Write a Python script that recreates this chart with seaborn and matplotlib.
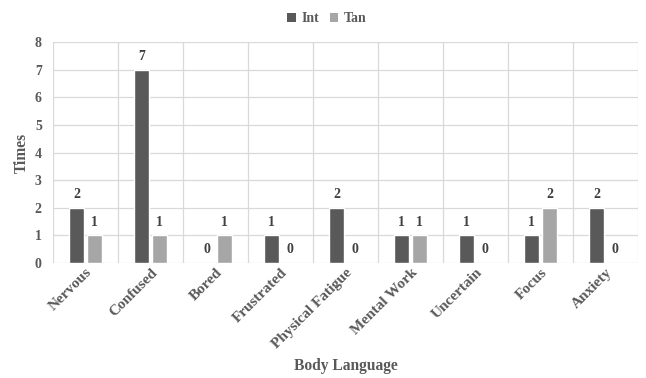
import matplotlib
matplotlib.use("Agg")
import matplotlib.pyplot as plt
from matplotlib.patches import Patch
import seaborn as sns
import pandas as pd
import numpy as np

categories = ["Nervous", "Confused", "Bored", "Frustrated", "Physical Fatigue",
              "Mental Work", "Uncertain", "Focus", "Anxiety"]
int_values = [2, 7, 0, 1, 2, 1, 1, 1, 2]
tan_values = [1, 1, 1, 0, 0, 1, 0, 2, 0]
series_names = ["Int", "Tan"]
y_ticks = [0, 1, 2, 3, 4, 5, 6, 7, 8]

df = pd.DataFrame({
    "Body Language": categories * 2,
    "Times": int_values + tan_values,
    "Series": [series_names[0]] * len(categories) + [series_names[1]] * len(categories),
})

sns.set_theme(style="white")
plt.rcParams["font.family"] = ["Liberation Serif", "DejaVu Serif"]
plt.rcParams["font.weight"] = "bold"

text_color = "#595959"
grid_color = "#d9d9d9"
palette = {"Int": "#595959", "Tan": "#a6a6a6"}

fig = plt.figure(figsize=(6.46, 3.78), dpi=100)
ax = fig.add_axes([0.082, 0.304, 0.906, 0.585])

sns.barplot(data=df, x="Body Language", y="Times", hue="Series",
            order=categories, hue_order=series_names, palette=palette,
            width=0.55, gap=0.17, saturation=1, ax=ax, legend=False,
            zorder=3)

# value labels on top of every bar
for container in ax.containers:
    ax.bar_label(container, fmt="%d", padding=5, fontsize=10,
                 fontweight="bold", color="#404040")

ax.set_ylim(0, 8)
ax.set_xlim(-0.5, len(categories) - 0.5)
ax.set_yticks(y_ticks)
ax.set_yticklabels([str(t) for t in y_ticks], fontsize=10, fontweight="bold", color=text_color)
ax.tick_params(axis="y", length=0, pad=8)
ax.tick_params(axis="x", length=0, pad=2)

# horizontal gridlines and vertical category separators
for t in y_ticks:
    ax.axhline(t, color=grid_color, lw=0.9, zorder=0)
for b in np.arange(-0.5, len(categories), 1.0):
    ax.axvline(b, color=grid_color, lw=0.9, zorder=0)

for s in ax.spines.values():
    s.set_visible(False)

ax.set_xticks(range(len(categories)))
ax.set_xticklabels(categories, rotation=45, ha="right", rotation_mode="anchor",
                   fontsize=11, fontweight="bold", color=text_color)

ax.set_xlabel("Body Language", fontsize=11.2, fontweight="bold", color=text_color)
ax.xaxis.set_label_coords(0.5, -0.465)
ax.xaxis.label.set_va("center")
ax.set_ylabel("Times", fontsize=11.2, fontweight="bold", color=text_color)
ax.yaxis.set_label_coords(-0.053, 0.5)
ax.yaxis.label.set_va("center")

handles = [Patch(facecolor=palette[n], edgecolor="none") for n in series_names]
fig.legend(handles, series_names, loc="upper center", bbox_to_anchor=(0.506, 1.0),
           ncol=2, frameon=False, handlelength=0.6, handleheight=0.6,
           handletextpad=0.4, columnspacing=0.8,
           prop={"family": "Liberation Serif", "weight": "bold", "size": 10},
           labelcolor=text_color)

fig.savefig("out.png", dpi=100)
